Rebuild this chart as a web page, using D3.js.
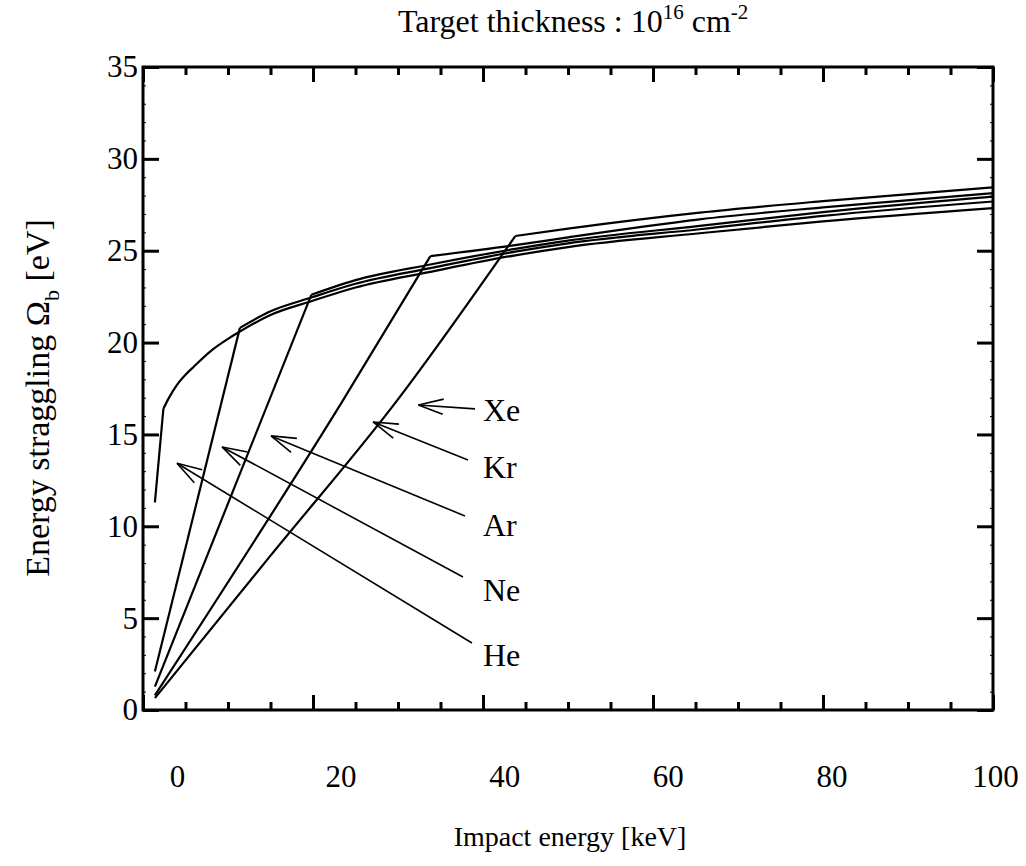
<!DOCTYPE html>
<html>
<head>
<meta charset="utf-8">
<script src="https://cdn.jsdelivr.net/npm/d3@7"></script>
<style>
  html, body { margin: 0; padding: 0; background: #fff; }
  svg { display: block; }
  text { font-family: "Liberation Serif", "Times New Roman", serif; fill: #000; }
</style>
</head>
<body>
<svg id="chart" width="1026" height="866"></svg>
<script>
// Energy straggling vs impact energy for five projectile gases
const gases = ["He", "Ne", "Ar", "Kr", "Xe"];

// Impact energy [keV] and straggling [eV]; each series is a steep ramp up to its kink, then a slow rise
const heEnergy = [1.4, 2.4, 3, 4, 5, 6, 8, 10, 11.4, 15, 19.8, 25, 33.8, 43.8, 50, 65.5, 80, 100];
const heStrag  = [11.3, 16.4, 16.95, 17.7, 18.25, 18.7, 19.55, 20.2, 20.6, 21.5, 22.25, 23.0, 23.85, 24.75, 25.2, 25.95, 26.6, 27.32];
const neEnergy = [1.4, 11.4, 15, 19.8, 25, 33.8, 43.8, 50, 65.5, 80, 100];
const neStrag  = [2.1, 20.8, 21.7, 22.45, 23.2, 24.05, 24.95, 25.4, 26.17, 26.9, 27.68];
const arEnergy = [1.4, 19.8, 25, 33.8, 43.8, 50, 65.5, 80, 100];
const arStrag  = [1.27, 22.6, 23.4, 24.25, 25.1, 25.55, 26.35, 27.1, 27.94];
const krEnergy = [1.4, 23.56, 33.8, 43.8, 50, 65.5, 80, 100];
const krStrag  = [0.8, 16.88, 24.7, 25.3, 25.73, 26.71, 27.36, 28.13];
const xeEnergy = [1.4, 15, 29.95, 43.8, 50, 65.5, 80, 100];
const xeStrag  = [0.65, 8.4, 16.88, 25.8, 26.2, 27.07, 27.7, 28.45];
// index of the kink point in each series
const kinkIndex = [1, 1, 1, 2, 3];

// Axis ticks
const xTicks = [0, 20, 40, 60, 80, 100];
const xMinorTicks = d3.range(0, 101, 5);
const yTicks = [0, 5, 10, 15, 20, 25, 30, 35];
const yMinorTicks = d3.range(0, 36, 1);

// Arrow annotations: label, arrow tip (energy, straggling), arrow tail, label anchor
const annLabels = ["Xe", "Kr", "Ar", "Ne", "He"];
const annTipE  = [32.4, 27.06, 15.06, 9.3, 4.0];
const annTipS  = [16.6, 15.68, 14.92, 14.32, 13.43];
const annTailE = [39.06, 38.24, 37.88, 37.65, 38.7];
const annTailS = [16.39, 13.61, 10.56, 7.24, 3.65];
const annTextE = [40.0, 40.0, 40.0, 40.0, 40.0];
const annTextS = [16.33, 13.23, 10.07, 6.53, 2.99];

const seriesE = [heEnergy, neEnergy, arEnergy, krEnergy, xeEnergy];
const seriesS = [heStrag, neStrag, arStrag, krStrag, xeStrag];

const svg = d3.select("#chart");
svg.append("rect").attr("width", 1026).attr("height", 866).attr("fill", "#fff");

const plotL = 143, plotR = 993, plotT = 67, plotB = 710;
const x = d3.scaleLinear().domain([0, 100]).range([plotL, plotR]);
const xLab = d3.scaleLinear().domain([0, 100]).range([177, 995]);
const y = d3.scaleLinear().domain([0, 35]).range([plotB, plotT]);

const g = svg.append("g");

// Minor/major ticks on all four sides, pointing inward
function tickAxis(axisFn, scale, vals, len, transform, width) {
  const ax = g.append("g").attr("transform", transform)
    .call(axisFn(scale).tickValues(vals).tickSize(len).tickFormat(""));
  ax.select(".domain").remove();
  ax.selectAll("line").attr("stroke", "#000").attr("stroke-width", width);
  return ax;
}
const xMinorOnly = xMinorTicks.filter(v => v % 20 !== 0);
tickAxis(d3.axisTop, x, xMinorOnly, 8, `translate(0,${plotB})`, 3);
tickAxis(d3.axisTop, x, xTicks, 15, `translate(0,${plotB})`, 3);
tickAxis(d3.axisBottom, x, xMinorOnly, 8, `translate(0,${plotT})`, 3);
tickAxis(d3.axisBottom, x, xTicks, 15, `translate(0,${plotT})`, 3);
const yMinorOnly = yMinorTicks.filter(v => v % 5 !== 0);
tickAxis(d3.axisRight, y, yMinorOnly, 3, `translate(${plotL},0)`, 1);
tickAxis(d3.axisRight, y, yTicks, 16, `translate(${plotL},0)`, 3);
tickAxis(d3.axisLeft, y, yMinorOnly, 3, `translate(${plotR},0)`, 1);
tickAxis(d3.axisLeft, y, yTicks, 16, `translate(${plotR},0)`, 3);

// Tick labels
const xl = g.append("g").attr("transform", `translate(0,${plotB})`)
  .call(d3.axisBottom(xLab).tickValues(xTicks).tickSize(0).tickPadding(55));
xl.select(".domain").remove();
xl.selectAll("text").attr("font-size", 31).attr("font-family", "Liberation Serif").attr("fill", "#000");

const yl = g.append("g").attr("transform", `translate(${plotL},0)`)
  .call(d3.axisLeft(y).tickValues(yTicks).tickSize(0).tickPadding(5));
yl.select(".domain").remove();
yl.selectAll("text").attr("font-size", 31).attr("font-family", "Liberation Serif").attr("fill", "#000");

// Frame
g.append("rect").attr("x", plotL).attr("y", plotT).attr("width", plotR - plotL).attr("height", plotB - plotT)
  .attr("fill", "none").attr("stroke", "#000").attr("stroke-width", 3);

// Series: ramp and high-energy branch drawn as separate paths so the kink stays sharp
const lineCurve = d3.line().x(d => x(d[0])).y(d => y(d[1])).curve(d3.curveMonotoneX);
gases.forEach((name, i) => {
  const pts = seriesE[i].map((e, j) => [e, seriesS[i][j]]);
  const k = kinkIndex[i];
  g.append("path").attr("d", lineCurve(pts.slice(0, k + 1)))
    .attr("fill", "none").attr("stroke", "#000").attr("stroke-width", 2.2);
  g.append("path").attr("d", lineCurve(pts.slice(k)))
    .attr("fill", "none").attr("stroke", "#000").attr("stroke-width", 2.2);
});

// Arrow annotations with open arrowheads
annLabels.forEach((lab, i) => {
  const tx = x(annTipE[i]), ty = y(annTipS[i]);
  const sx = x(annTailE[i]), sy = y(annTailS[i]);
  g.append("line").attr("x1", sx).attr("y1", sy).attr("x2", tx).attr("y2", ty)
    .attr("stroke", "#000").attr("stroke-width", 1.6);
  const ang = Math.atan2(sy - ty, sx - tx);
  const L = 26, spread = 17 * Math.PI / 180;
  [ang - spread, ang + spread].forEach(a => {
    g.append("line").attr("x1", tx).attr("y1", ty)
      .attr("x2", tx + L * Math.cos(a)).attr("y2", ty + L * Math.sin(a))
      .attr("stroke", "#000").attr("stroke-width", 1.6);
  });
  g.append("text").attr("x", x(annTextE[i])).attr("y", y(annTextS[i]))
    .attr("dy", "0.35em").attr("font-size", 32).text(lab);
});

// Title and axis titles
const title = svg.append("text").attr("x", 398).attr("y", 32).attr("text-anchor", "start").attr("font-size", 32);
title.append("tspan").text("Target thickness : 10");
title.append("tspan").attr("dy", -13).attr("font-size", 21).text("16");
title.append("tspan").attr("dy", 13).text(" cm");
title.append("tspan").attr("dy", -13).attr("font-size", 21).text("-2");

svg.append("text").attr("x", 570).attr("y", 846).attr("text-anchor", "middle").attr("font-size", 28)
  .text("Impact energy [keV]");

const yt = svg.append("text").attr("transform", "translate(37,398) rotate(-90)")
  .attr("text-anchor", "middle").attr("font-size", 34).attr("dy", "0.35em");
yt.append("tspan").text("Energy  straggling \u03A9");
yt.append("tspan").attr("dy", 10).attr("font-size", 22).text("b");
yt.append("tspan").attr("dy", -10).text(" [eV]");
</script>
</body>
</html>
